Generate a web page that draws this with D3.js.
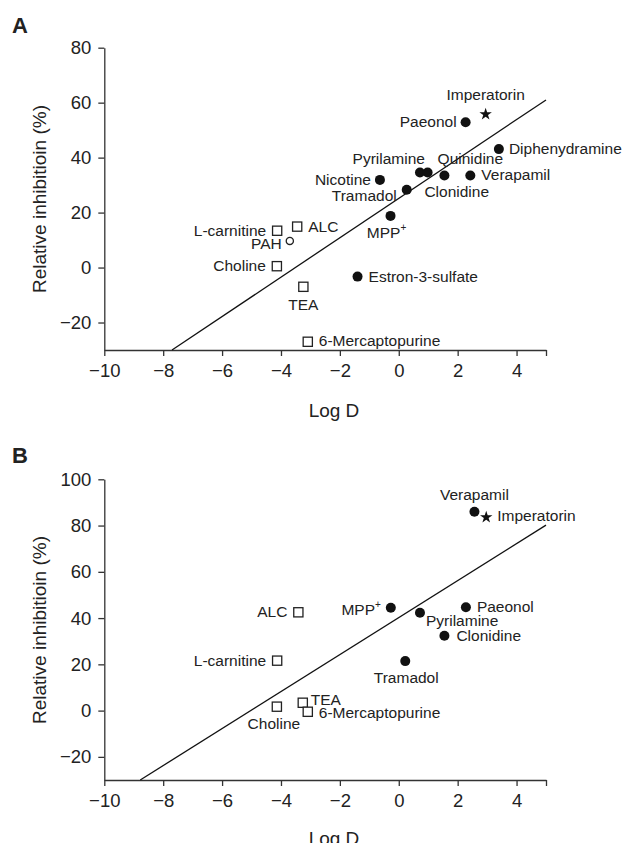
<!DOCTYPE html>
<html>
<head>
<meta charset="utf-8">
<script src="https://cdn.jsdelivr.net/npm/d3@7"></script>
<style>
  body { margin: 0; background: #fff; }
  svg text { font-family: "Liberation Sans", Arial, Helvetica, sans-serif; fill: #222; }
</style>
</head>
<body>
<script>
/* CONSTANTS AND GLOBALS */
const width = 627;
const height = 843;

/* DATA */
// panel A
const namesA = ["Imperatorin", "Paeonol", "Diphenydramine", "Pyrilamine", "Quinidine", "Clonidine",
  "Verapamil", "Nicotine", "Tramadol", "MPP+", "Estron-3-sulfate", "ALC", "L-carnitine", "PAH",
  "Choline", "TEA", "6-Mercaptopurine"];
const logDA = [2.95, 2.27, 3.40, 0.72, 0.98, 1.55, 2.43, -0.64, 0.27, -0.28, -1.40, -3.45, -4.13, -3.70, -4.14, -3.24, -3.09];
const inhibA = [55.8, 52.9, 43.1, 34.6, 34.6, 33.5, 33.5, 31.9, 28.3, 18.8, -3.3, 14.9, 13.4, 9.7, 0.5, -7.0, -27.0];
const kindA = ["star", "filled", "filled", "filled", "filled", "filled", "filled", "filled", "filled", "filled",
  "filled", "square", "square", "open", "square", "square", "square"];
const fitA = [[-7.7, -30], [5, 61]];

// panel B
const namesB = ["Verapamil", "Imperatorin", "MPP+", "Pyrilamine", "Paeonol", "Clonidine", "Tramadol",
  "ALC", "L-carnitine", "Choline", "TEA", "6-Mercaptopurine"];
const logDB = [2.57, 2.97, -0.27, 0.72, 2.28, 1.55, 0.22, -3.41, -4.13, -4.14, -3.26, -3.09];
const inhibB = [86.0, 83.6, 44.5, 42.3, 44.7, 32.4, 21.4, 42.5, 21.6, 1.7, 3.4, -0.5];
const kindB = ["filled", "star", "filled", "filled", "filled", "filled", "filled", "square", "square", "square", "square", "square"];
const fitB = [[-8.78, -30], [5, 80.2]];

// ticks
const xTicks = [-10, -8, -6, -4, -2, 0, 2, 4, 5];
const yTicksA = [-20, 0, 20, 40, 60, 80];
const yTicksB = [-20, 0, 20, 40, 60, 80, 100];

// label placement: [dx, dy, anchor]
const placeA = {
  "Imperatorin": [0, -14, "middle"], "Paeonol": [-9, 5, "end"], "Diphenydramine": [10, 5, "start"],
  "Pyrilamine": [5, -8, "end"], "Quinidine": [10, -8, "start"], "Clonidine": [-20, 22, "start"],
  "Verapamil": [11, 5, "start"], "Nicotine": [-9, 5, "end"], "Tramadol": [-10, 11, "end"],
  "MPP+": [-4, 22, "middle"], "Estron-3-sulfate": [11, 5, "start"], "ALC": [11, 5, "start"],
  "L-carnitine": [-11, 5, "end"], "PAH": [-8, 8, "end"], "Choline": [-11, 5, "end"],
  "TEA": [0, 23, "middle"], "6-Mercaptopurine": [11, 4, "start"]
};
const placeB = {
  "Verapamil": [0, -12, "middle"], "Imperatorin": [11, 4, "start"], "MPP+": [-10, 7, "end"],
  "Pyrilamine": [6, 13, "start"], "Paeonol": [11, 5, "start"], "Clonidine": [12, 5, "start"],
  "Tramadol": [1, 22, "middle"], "ALC": [-11, 5, "end"], "L-carnitine": [-11, 5, "end"],
  "Choline": [-3, 22, "middle"], "TEA": [8, 2, "start"], "6-Mercaptopurine": [11, 6, "start"]
};

const svg = d3.select("body").append("svg")
  .attr("width", width)
  .attr("height", height);

/* SCALES */
const xScale = d3.scaleLinear().domain([-10, 5]).range([104.3, 546]);

function drawPanel(opts) {
  const { letter, letterY, yScale, yTicks, names, logD, inhib, kind, fit, place, titleY, logDY } = opts;
  const g = svg.append("g");

  g.append("text")
    .attr("x", 12).attr("y", letterY)
    .style("font-size", "22px").style("font-weight", "bold")
    .text(letter);

  const xAxis = d3.axisBottom(xScale)
    .tickValues(xTicks)
    .tickSize(6).tickSizeOuter(0).tickPadding(8)
    .tickFormat(d => d === 5 ? "" : d3.format("d")(d));
  const xg = g.append("g")
    .attr("transform", `translate(0, ${yScale.range()[0]})`)
    .call(xAxis);

  const yAxis = d3.axisLeft(yScale)
    .tickValues(yTicks)
    .tickSize(6).tickSizeOuter(0).tickPadding(7)
    .tickFormat(d3.format("d"));
  const yg = g.append("g")
    .attr("transform", `translate(${xScale.range()[0]}, 0)`)
    .call(yAxis);

  [xg, yg].forEach(a => {
    a.selectAll("path, line").attr("stroke", "#333").attr("stroke-width", 1.3);
    a.selectAll("text").style("font-size", "18.5px").attr("fill", "#222").attr("font-family", null);
  });

  g.append("text")
    .attr("transform", `translate(46, ${titleY}) rotate(-90)`)
    .attr("text-anchor", "middle")
    .style("font-size", "19px")
    .text("Relative inhibitioin (%)");

  g.append("text")
    .attr("x", 334).attr("y", logDY)
    .attr("text-anchor", "middle")
    .style("font-size", "19px")
    .text("Log D");

  // fitted line
  g.append("line")
    .attr("x1", xScale(fit[0][0])).attr("y1", yScale(fit[0][1]))
    .attr("x2", xScale(fit[1][0])).attr("y2", yScale(fit[1][1]))
    .attr("stroke", "#111").attr("stroke-width", 1.3);

  const data = names.map((n, i) => ({ name: n, x: logD[i], y: inhib[i], kind: kind[i] }));

  const pts = g.selectAll(".pt")
    .data(data)
    .join("g")
    .attr("class", "pt")
    .attr("transform", d => `translate(${xScale(d.x)}, ${yScale(d.y)})`);

  pts.filter(d => d.kind === "filled").append("circle")
    .attr("r", 5).attr("fill", "#111");
  pts.filter(d => d.kind === "open").append("circle")
    .attr("r", 3.6).attr("fill", "#fff").attr("stroke", "#222").attr("stroke-width", 1.3);
  pts.filter(d => d.kind === "square").append("rect")
    .attr("x", -4.6).attr("y", -4.6).attr("width", 9.2).attr("height", 9.2)
    .attr("fill", "#fff").attr("stroke", "#222").attr("stroke-width", 1.3);
  pts.filter(d => d.kind === "star").append("path")
    .attr("d", d3.symbol(d3.symbolStar).size(48))
    .attr("fill", "#111");

  const labels = pts.append("text")
    .attr("x", d => place[d.name][0])
    .attr("y", d => place[d.name][1])
    .attr("text-anchor", d => place[d.name][2])
    .style("font-size", "15.5px");
  labels.text(d => d.name === "MPP+" ? "MPP" : d.name);
  labels.filter(d => d.name === "MPP+").append("tspan")
    .attr("dy", -7)
    .style("font-size", "10px")
    .text("+");
}

drawPanel({
  letter: "A", letterY: 33, yScale: d3.scaleLinear().domain([-30, 80]).range([350, 47.7]),
  yTicks: yTicksA, names: namesA, logD: logDA, inhib: inhibA, kind: kindA, fit: fitA, place: placeA,
  titleY: 199, logDY: 417
});

drawPanel({
  letter: "B", letterY: 463, yScale: d3.scaleLinear().domain([-30, 100]).range([780, 479.3]),
  yTicks: yTicksB, names: namesB, logD: logDB, inhib: inhibB, kind: kindB, fit: fitB, place: placeB,
  titleY: 630, logDY: 845
});
</script>
</body>
</html>
